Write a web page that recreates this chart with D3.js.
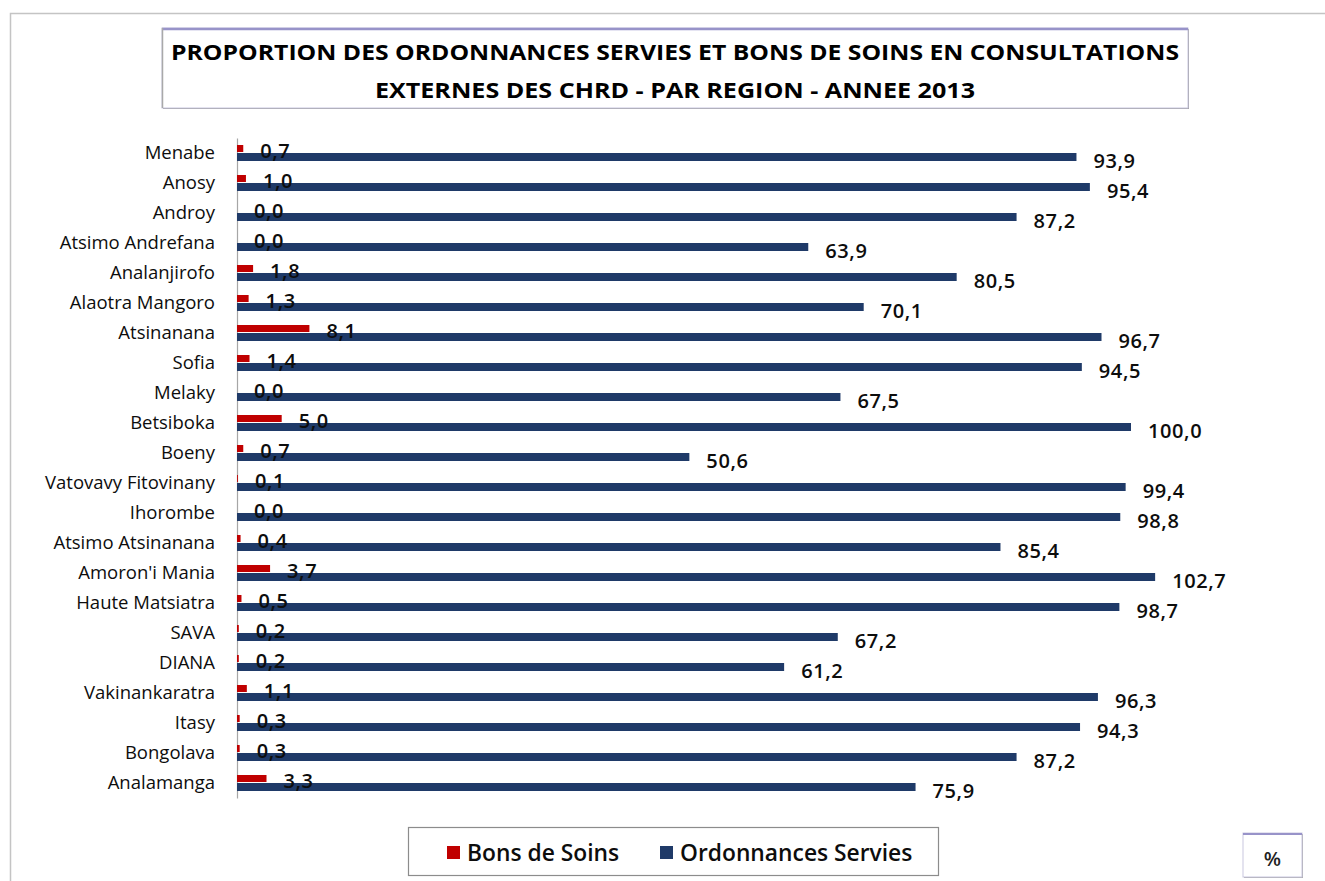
<!DOCTYPE html>
<html>
<head>
<meta charset="utf-8">
<script src="https://cdn.jsdelivr.net/npm/d3@7"></script>
<style>
  html, body { margin: 0; padding: 0; background: #fff; }
  svg { display: block; }
</style>
</head>
<body>
<script>
// ---- Data ----
const categories = ["Menabe","Anosy","Androy","Atsimo Andrefana","Analanjirofo","Alaotra Mangoro","Atsinanana","Sofia","Melaky","Betsiboka","Boeny","Vatovavy Fitovinany","Ihorombe","Atsimo Atsinanana","Amoron'i Mania","Haute Matsiatra","SAVA","DIANA","Vakinankaratra","Itasy","Bongolava","Analamanga"];
const bonsDeSoins = [0.7,1.0,0.0,0.0,1.8,1.3,8.1,1.4,0.0,5.0,0.7,0.1,0.0,0.4,3.7,0.5,0.2,0.2,1.1,0.3,0.3,3.3];
const ordonnancesServies = [93.9,95.4,87.2,63.9,80.5,70.1,96.7,94.5,67.5,100.0,50.6,99.4,98.8,85.4,102.7,98.7,67.2,61.2,96.3,94.3,87.2,75.9];
const seriesNames = ["Bons de Soins","Ordonnances Servies"];
const titleLines = ["PROPORTION DES ORDONNANCES SERVIES ET BONS DE SOINS EN CONSULTATIONS","EXTERNES DES CHRD - PAR REGION - ANNEE 2013"];
const unitLabel = "%";

const W = 1325, H = 881;
const RED = "#c00000", BLUE = "#1f3a68";
const FONT = "'Open Sans', sans-serif";

const svg = d3.select("body").append("svg").attr("width", W).attr("height", H);

// chart area frame
svg.append("rect").attr("x", 10.5).attr("y", 13.5).attr("width", W).attr("height", H)
  .attr("fill", "#fff").attr("stroke", "#c4c4c4").attr("stroke-width", 1.5);

// title box
const tb = {x: 162, y: 28, w: 1026, h: 80};
svg.append("rect").attr("x", tb.x + 1).attr("y", tb.y + 1).attr("width", tb.w).attr("height", tb.h)
  .attr("fill", "#9a9a9a");
svg.append("rect").attr("x", tb.x).attr("y", tb.y).attr("width", tb.w).attr("height", tb.h)
  .attr("fill", "#fff").attr("stroke", "#c9c7e0").attr("stroke-width", 1);
svg.append("line").attr("x1", tb.x).attr("x2", tb.x + tb.w).attr("y1", tb.y + 1).attr("y2", tb.y + 1)
  .attr("stroke", "#9893c9").attr("stroke-width", 2.5);
svg.append("line").attr("x1", tb.x + 0.5).attr("x2", tb.x + 0.5).attr("y1", tb.y).attr("y2", tb.y + tb.h)
  .attr("stroke", "#a9a9a9").attr("stroke-width", 1.5);

const titleCfg = [{y: 51, len: 1008}, {y: 89, len: 600}];
titleLines.forEach((t, i) => {
  svg.append("text").attr("x", 675).attr("y", titleCfg[i].y)
    .attr("text-anchor", "middle").attr("dominant-baseline", "central")
    .attr("font-family", FONT).attr("font-weight", 700).attr("font-size", 22)
    .attr("fill", "#000")
    .attr("textLength", titleCfg[i].len).attr("lengthAdjust", "spacingAndGlyphs")
    .text(t);
});

// scales
const x = d3.scaleLinear().domain([0, 100]).range([237, 1131]);
const y = d3.scaleBand().domain(categories).range([138, 798]).paddingInner(0).paddingOuter(0);
const fmt = v => d3.format(".1f")(v).replace(".", ",");

// category axis
const yAxis = d3.axisLeft(y).tickSize(0).tickPadding(22);
const ga = svg.append("g").attr("transform", `translate(${x(0)},0)`).call(yAxis);
ga.select(".domain").attr("stroke", "#a6a6a6").attr("stroke-width", 1.2);
ga.selectAll(".tick text")
  .attr("font-family", FONT).attr("font-size", 18.5).attr("font-weight", 500).attr("fill", "#0d0d0d")
  .attr("dy", null).attr("dominant-baseline", "central").attr("y", -2);

// bars
const rows = categories.map((c, i) => ({c, b: bonsDeSoins[i], o: ordonnancesServies[i]}));
const cy = d => y(d.c) + y.bandwidth() / 2;

svg.append("g").selectAll("rect").data(rows).join("rect")
  .attr("x", x(0)).attr("y", d => cy(d) - 8)
  .attr("width", d => x(d.b) - x(0)).attr("height", 7)
  .attr("fill", RED);

svg.append("g").selectAll("rect").data(rows).join("rect")
  .attr("x", x(0)).attr("y", d => cy(d))
  .attr("width", d => x(d.o) - x(0)).attr("height", 8)
  .attr("fill", BLUE);

// value labels
const labelStyle = sel => sel
  .attr("font-family", FONT).attr("font-size", 20).attr("font-weight", 600).attr("letter-spacing", 0.6)
  .attr("fill", "#0d0d0d").attr("dominant-baseline", "central");

svg.append("g").selectAll("text").data(rows).join("text")
  .attr("x", d => x(d.b) + 17).attr("y", d => cy(d) - 3)
  .call(labelStyle).text(d => fmt(d.b));

svg.append("g").selectAll("text").data(rows).join("text")
  .attr("x", d => x(d.o) + 17).attr("y", d => cy(d) + 7)
  .call(labelStyle).text(d => fmt(d.o));

// legend
const lg = svg.append("g");
lg.append("rect").attr("x", 408.5).attr("y", 827.5).attr("width", 530).attr("height", 48)
  .attr("fill", "#fff").attr("stroke", "#8c8c8c").attr("stroke-width", 1.2);
const legendItems = [{name: seriesNames[0], color: RED, x: 447}, {name: seriesNames[1], color: BLUE, x: 660}];
legendItems.forEach(it => {
  lg.append("rect").attr("x", it.x).attr("y", 846).attr("width", 13).attr("height", 13).attr("fill", it.color);
  lg.append("text").attr("x", it.x + 20).attr("y", 852)
    .attr("dominant-baseline", "central")
    .attr("font-family", FONT).attr("font-weight", 600).attr("font-size", 22.8).attr("fill", "#0d0d0d")
    .text(it.name);
});

// unit box
const ub = {x: 1243, y: 833, w: 59, h: 44};
svg.append("rect").attr("x", ub.x + 1).attr("y", ub.y + 1).attr("width", ub.w).attr("height", ub.h).attr("fill", "#a8a8a8");
svg.append("rect").attr("x", ub.x).attr("y", ub.y).attr("width", ub.w).attr("height", ub.h)
  .attr("fill", "#fff").attr("stroke", "#c9c7e0");
svg.append("line").attr("x1", ub.x).attr("x2", ub.x + ub.w).attr("y1", ub.y + 1).attr("y2", ub.y + 1)
  .attr("stroke", "#9893c9").attr("stroke-width", 2);
svg.append("text").attr("x", ub.x + ub.w / 2).attr("y", ub.y + ub.h / 2 + 3)
  .attr("text-anchor", "middle").attr("dominant-baseline", "central")
  .attr("font-family", FONT).attr("font-weight", 600).attr("font-size", 20).attr("fill", "#222")
  .text(unitLabel);
</script>
</body>
</html>
